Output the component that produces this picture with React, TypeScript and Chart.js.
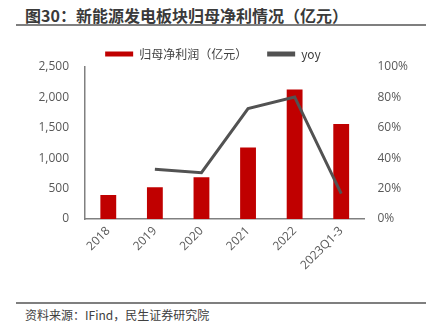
import React, { useEffect, useRef } from "react";
import { Chart, registerables } from "chart.js";

Chart.register(...registerables);

const categories = ["2018", "2019", "2020", "2021", "2022", "2023Q1-3"];
const profit = [395, 521, 686, 1174, 2128, 1562];
const yoy = [null, 32.7, 30.5, 72.6, 80.3, 16.7];
const profitLabel = "归母净利润（亿元）";
const yoyLabel = "yoy";
const titleText = "图30：新能源发电板块归母净利情况（亿元）";
const sourceText = "资料来源：IFind，民生证券研究院";

const CANVAS_TOP = 27;
const CANVAS_H = 273;
const tickFont = { family: '"Open Sans", "Noto Sans CJK SC", sans-serif', size: 12 };
const cjkFont = '"Noto Sans CJK SC", "Noto Sans", sans-serif';

export default function App() {
  const ref = useRef<HTMLCanvasElement>(null);
  useEffect(() => {
    document.body.style.margin = "0";
    const legendFit = {
      id: "legendFit",
      beforeInit(chart: any) {
        const l = chart.legend;
        if (l) {
          const f = l.fit;
          l.fit = function () {
            f.call(this);
            this.height = 39;
          };
        }
      },
    };
    const chart = new Chart(ref.current as HTMLCanvasElement, {
      type: "bar",
      data: {
        labels: categories,
        datasets: [
          {
            type: "bar",
            label: profitLabel,
            data: profit,
            backgroundColor: "#C00000",
            yAxisID: "y",
            barPercentage: 0.34,
            categoryPercentage: 1,
            order: 1,
          },
          {
            type: "line",
            label: yoyLabel,
            data: yoy as any,
            borderColor: "#525252",
            backgroundColor: "#525252",
            borderWidth: 3,
            pointRadius: 0,
            tension: 0,
            yAxisID: "y1",
            order: 0,
          },
        ],
      },
      options: {
        animation: false,
        responsive: true,
        maintainAspectRatio: false,
        layout: { padding: { left: 0, right: 0, top: 1, bottom: 0 } },
        plugins: {
          tooltip: { enabled: false },
          legend: {
            position: "top",
            labels: {
              boxWidth: 28,
              boxHeight: 5,
              padding: 20,
              color: "#404040",
              font: { family: cjkFont, size: 12 },
              sort: (a: any, b: any) => a.datasetIndex - b.datasetIndex,
              generateLabels(c: any) {
                const items = (Chart.defaults.plugins.legend.labels as any).generateLabels(c);
                items.forEach((it: any) => {
                  it.lineWidth = 0;
                  it.strokeStyle = "rgba(0,0,0,0)";
                  it.fillStyle = it.datasetIndex === 1 ? "#525252" : "#C00000";
                });
                return items;
              },
            },
          },
        },
        scales: {
          x: {
            grid: { display: false, drawTicks: false },
            border: { display: true, color: "#808080", width: 1.5 },
            ticks: {
              color: "#595959",
              font: tickFont,
              minRotation: 45,
              maxRotation: 45,
              padding: 5,
            },
            afterFit(s: any) {
              s.height = 81;
            },
          },
          y: {
            position: "left",
            min: 0,
            max: 2500,
            grid: { display: false, drawTicks: false },
            border: { display: true, color: "#808080", width: 1.5 },
            ticks: {
              stepSize: 500,
              color: "#595959",
              font: tickFont,
              padding: 16,
              callback: (v: any) => Number(v).toLocaleString("en-US"),
            },
            afterFit(s: any) {
              s.width = 85;
            },
          },
          y1: {
            position: "right",
            min: 0,
            max: 100,
            grid: { display: false, drawTicks: false },
            border: { display: false },
            ticks: {
              stepSize: 20,
              color: "#595959",
              font: tickFont,
              padding: 13,
              callback: (v: any) => v + "%",
            },
            afterFit(s: any) {
              s.width = 61.5;
            },
          },
        },
      },
      plugins: [legendFit],
    });
    return () => chart.destroy();
  }, []);

  return (
    <div style={{ position: "relative", width: 426, height: 329, background: "#fff", fontFamily: cjkFont }}>
      <div
        style={{
          position: "absolute",
          left: 25,
          top: 5,
          fontSize: 16,
          lineHeight: "20px",
          fontWeight: "bold",
          color: "#3a3a3a",
          whiteSpace: "nowrap",
        }}
      >
        {titleText}
      </div>
      <div style={{ position: "absolute", left: 16, top: 24, width: 410, height: 2, background: "#7f7f7f" }} />
      <div style={{ position: "absolute", left: 0, top: CANVAS_TOP, width: 426, height: CANVAS_H }}>
        <canvas ref={ref} />
      </div>
      <div style={{ position: "absolute", left: 16, top: 302, width: 410, height: 1.5, background: "#7f7f7f" }} />
      <div
        style={{
          position: "absolute",
          left: 25,
          top: 307,
          fontSize: 12,
          lineHeight: "16px",
          color: "#404040",
          whiteSpace: "nowrap",
        }}
      >
        {sourceText}
      </div>
    </div>
  );
}
